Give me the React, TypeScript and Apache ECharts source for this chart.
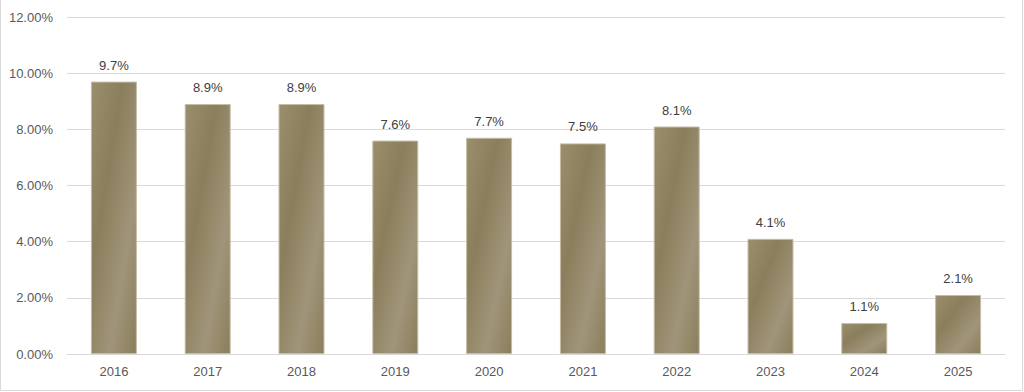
import React, { useEffect, useRef } from "react";
import * as echarts from "echarts";

const categories = ["2016", "2017", "2018", "2019", "2020", "2021", "2022", "2023", "2024", "2025"];
const values = [9.7, 8.9, 8.9, 7.6, 7.7, 7.5, 8.1, 4.1, 1.1, 2.1];

export default function App() {
  const ref = useRef<HTMLDivElement>(null);
  useEffect(() => {
    if (!ref.current) return;
    const chart = echarts.init(ref.current, null, { renderer: "svg" });
    const font = "'Liberation Sans', Arial, sans-serif";
    chart.setOption({
      animation: false,
      backgroundColor: "#ffffff",
      grid: { left: 67, right: 19, top: 17, bottom: 38 },
      graphic: [
        {
          type: "rect",
          shape: { x: 0.5, y: -2, width: 1022, height: 392.5 },
          style: { fill: "none", stroke: "#d9d9d9", lineWidth: 1 },
          silent: true,
        },
      ],
      xAxis: {
        type: "category",
        data: categories,
        axisLine: { show: true, lineStyle: { color: "#d9d9d9", width: 1 } },
        axisTick: { show: false },
        axisLabel: { color: "#595959", fontSize: 13, fontFamily: font, margin: 11 },
      },
      yAxis: {
        type: "value",
        min: 0,
        max: 12,
        interval: 2,
        axisLine: { show: false },
        axisTick: { show: false },
        splitLine: { lineStyle: { color: "#d9d9d9", width: 1 } },
        axisLabel: {
          color: "#595959",
          fontSize: 13,
          fontFamily: font,
          margin: 14,
          formatter: (v: number) => v.toFixed(2) + "%",
        },
      },
      series: [
        {
          type: "bar",
          data: values,
          barWidth: "49%",
          itemStyle: {
            borderColor: "#c4bca3",
            borderWidth: 1,
            color: new echarts.graphic.LinearGradient(0, 0, 1, 1, [
              { offset: 0, color: "#9a8e6d" },
              { offset: 0.35, color: "#8b7e5c" },
              { offset: 0.7, color: "#a0957a" },
              { offset: 1, color: "#8b7e5c" },
            ]),
          },
          label: {
            show: true,
            position: "top",
            distance: 10,
            color: "#404040",
            fontSize: 13,
            fontFamily: font,
            formatter: (p: any) => p.value.toFixed(1) + "%",
          },
        },
      ],
    });
    return () => chart.dispose();
  }, []);
  return (
    <div
      ref={ref}
      style={{ position: "absolute", left: 0, top: 0, width: 1024, height: 392 }}
    />
  );
}
